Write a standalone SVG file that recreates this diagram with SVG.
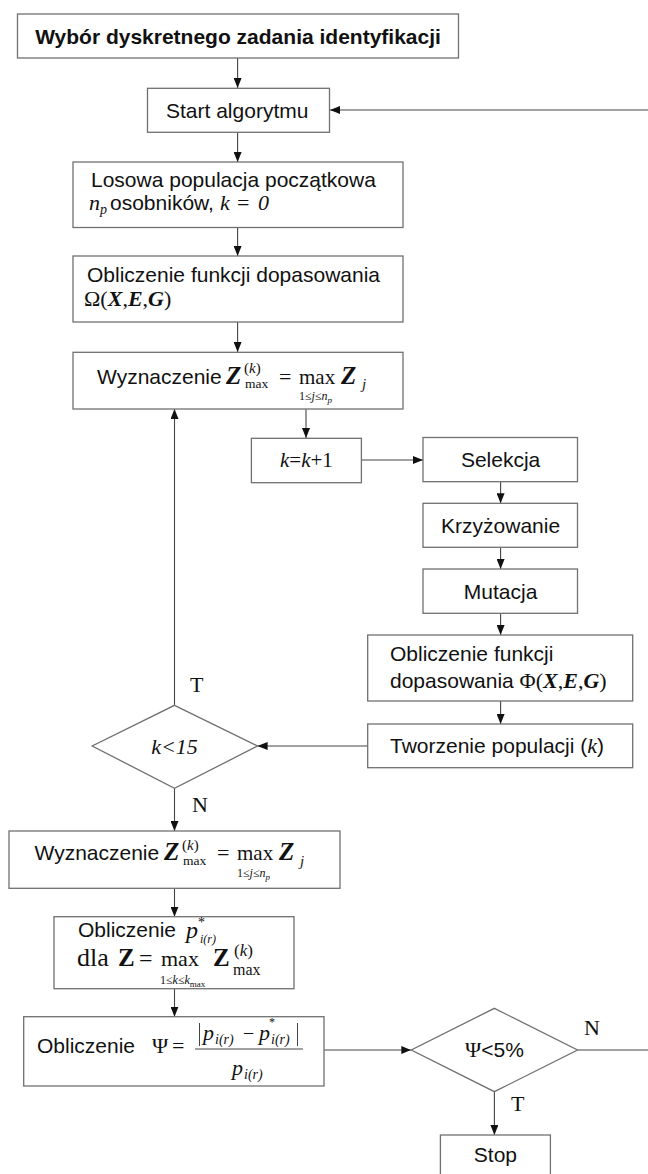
<svg xmlns="http://www.w3.org/2000/svg" width="648" height="1174" viewBox="0 0 648 1174">
<defs>
<marker id="ah" markerUnits="userSpaceOnUse" markerWidth="10" markerHeight="8" viewBox="0 0 10 8" refX="10" refY="4" orient="auto"><path d="M0,0 L10,4 L0,8 z" fill="#111"/></marker>
<style>
.box{fill:#fff;stroke:#707070;stroke-width:1.3}
.ln{fill:none;stroke:#444;stroke-width:1.1}
.s{font-family:"Liberation Sans",Arial,sans-serif;font-size:21px;fill:#111}
.m{font-family:"Liberation Serif","Times New Roman",serif;fill:#111}
.i{font-style:italic}
.bi{font-weight:bold;font-style:italic}
.b{font-weight:bold}
</style>
</defs>
<rect width="648" height="1174" fill="#fff"/>
<g id="connectors">
<line class="ln" x1="237.6" y1="58" x2="237.6" y2="88" marker-end="url(#ah)"/>
<line class="ln" x1="237.6" y1="132" x2="237.6" y2="162" marker-end="url(#ah)"/>
<line class="ln" x1="237.6" y1="227.5" x2="237.6" y2="256" marker-end="url(#ah)"/>
<line class="ln" x1="237.6" y1="322" x2="237.6" y2="352" marker-end="url(#ah)"/>
<line class="ln" x1="306" y1="409" x2="306" y2="438" marker-end="url(#ah)"/>
<line class="ln" x1="361.4" y1="460" x2="423" y2="460" marker-end="url(#ah)"/>
<line class="ln" x1="500.6" y1="481.7" x2="500.6" y2="503.3" marker-end="url(#ah)"/>
<line class="ln" x1="500.6" y1="547.3" x2="500.6" y2="569" marker-end="url(#ah)"/>
<line class="ln" x1="500.6" y1="613.3" x2="500.6" y2="635" marker-end="url(#ah)"/>
<line class="ln" x1="500.6" y1="701" x2="500.6" y2="724" marker-end="url(#ah)"/>
<line class="ln" x1="367.7" y1="746" x2="257.6" y2="746" marker-end="url(#ah)"/>
<line class="ln" x1="174.5" y1="705.3" x2="174.5" y2="409" marker-end="url(#ah)"/>
<line class="ln" x1="174.5" y1="788.3" x2="174.5" y2="831" marker-end="url(#ah)"/>
<line class="ln" x1="174.5" y1="888.3" x2="174.5" y2="916.7" marker-end="url(#ah)"/>
<line class="ln" x1="174.5" y1="988.7" x2="174.5" y2="1016.7" marker-end="url(#ah)"/>
<line class="ln" x1="324" y1="1050" x2="411.3" y2="1050" marker-end="url(#ah)"/>
<line class="ln" x1="494.4" y1="1091.7" x2="494.4" y2="1135" marker-end="url(#ah)"/>
<path class="ln" d="M577.5,1050 H652 V110 H330" marker-end="url(#ah)"/>
<text class="m" x="190" y="692" font-size="22">T</text>
<text class="m" x="192" y="812" font-size="22">N</text>
<text class="m" x="584" y="1035" font-size="22">N</text>
<text class="m" x="511" y="1111" font-size="22">T</text>
</g>
<g id="n1">
<rect class="box" x="17.5" y="14" width="441" height="44"/>
<text class="s b" x="238" y="43.5" text-anchor="middle" font-size="22" font-weight="bold">Wybór dyskretnego zadania identyfikacji</text>
</g>
<g id="n2">
<rect class="box" x="147.5" y="88.3" width="182" height="44"/>
<text class="s" x="166" y="117.5">Start algorytmu</text>
</g>
<g id="n3">
<rect class="box" x="73" y="162" width="330" height="65.5"/>
<text class="s" x="91" y="187">Losowa populacja początkowa</text>
<text class="m i" x="89" y="210" font-size="22">n</text>
<text class="m i" x="100" y="214" font-size="14">p</text>
<text class="s" x="110" y="210" font-size="19">osobników,</text>
<text class="m i" x="220" y="210" font-size="22">k</text>
<text class="m" x="237" y="210" font-size="22">=</text>
<text class="m i" x="258" y="210" font-size="22">0</text>
</g>
<g id="n4">
<rect class="box" x="73" y="256" width="330" height="66"/>
<text class="s" x="87" y="281.5">Obliczenie funkcji dopasowania</text>
<text class="m" x="84" y="306" font-size="22">Ω(<tspan class="bi">X</tspan>,<tspan class="bi">E</tspan>,<tspan class="bi">G</tspan>)</text>
</g>
<g id="n5">
<rect class="box" x="73" y="352.3" width="330" height="56.7"/>
<text class="s" x="97" y="383.5">Wyznaczenie</text>
<text class="m bi" x="226" y="383.5" font-size="25">Z</text>
<text class="m" x="244" y="373" font-size="15">(<tspan class="i">k</tspan>)</text>
<text class="m" x="245" y="388" font-size="13.5">max</text>
<text class="m" x="279" y="383.5" font-size="22">=</text>
<text class="m" x="299" y="383.5" font-size="21">max</text>
<text class="m" x="299" y="400" font-size="12">1≤<tspan class="i">j</tspan>≤<tspan class="i">n</tspan><tspan class="i" font-size="9" dy="3">p</tspan></text>
<text class="m bi" x="341" y="383.5" font-size="25">Z</text>
<text class="m i" x="362" y="389" font-size="15">j</text>
</g>
<g id="n6">
<rect class="box" x="251.4" y="438.3" width="110" height="44.4"/>
<text class="m" x="280" y="467" font-size="21"><tspan class="i">k</tspan>=<tspan class="i">k</tspan>+1</text>
</g>
<g id="n7">
<rect class="box" x="423" y="437.5" width="154.5" height="44.2"/>
<text class="s" x="500.6" y="467" text-anchor="middle">Selekcja</text>
</g>
<g id="n8">
<rect class="box" x="423" y="503.3" width="154.5" height="44"/>
<text class="s" x="500.6" y="533" text-anchor="middle">Krzyżowanie</text>
</g>
<g id="n9">
<rect class="box" x="423" y="569" width="154.5" height="44.3"/>
<text class="s" x="500.6" y="599" text-anchor="middle">Mutacja</text>
</g>
<g id="n10">
<rect class="box" x="367.7" y="635" width="265" height="66"/>
<text class="s" x="390" y="661">Obliczenie funkcji</text>
<text class="s" x="390" y="688">dopasowania <tspan class="m" font-size="22">Φ(<tspan class="bi">X</tspan>,<tspan class="bi">E</tspan>,<tspan class="bi">G</tspan>)</tspan></text>
</g>
<g id="n11">
<rect class="box" x="367.7" y="724" width="265" height="43.7"/>
<text class="s" x="390" y="753">Tworzenie populacji (<tspan class="m i" font-size="22">k</tspan>)</text>
</g>
<g id="n12">
<polygon class="box" points="174.5,705.3 257.6,746 174.5,788.3 92.2,746"/>
<text class="m i" x="174.5" y="754" font-size="22" text-anchor="middle">k&lt;15</text>
</g>
<g id="n13">
<rect class="box" x="9" y="831" width="331" height="57.3"/>
<text class="s" x="34.5" y="860">Wyznaczenie</text>
<text class="m bi" x="164" y="860" font-size="25">Z</text>
<text class="m" x="182" y="849.5" font-size="15">(<tspan class="i">k</tspan>)</text>
<text class="m" x="183" y="864.5" font-size="13.5">max</text>
<text class="m" x="217" y="860" font-size="22">=</text>
<text class="m" x="237" y="860" font-size="21">max</text>
<text class="m" x="237" y="876.5" font-size="12">1≤<tspan class="i">j</tspan>≤<tspan class="i">n</tspan><tspan class="i" font-size="9" dy="3">p</tspan></text>
<text class="m bi" x="279" y="860" font-size="25">Z</text>
<text class="m i" x="300" y="865.5" font-size="15">j</text>
</g>
<g id="n14">
<rect class="box" x="54" y="916.7" width="240" height="72"/>
<text class="s" x="78" y="937" font-size="19.5">Obliczenie</text>
<text class="m i" x="186" y="938" font-size="24">p</text>
<text class="m" x="198" y="927" font-size="14">*</text>
<text class="m i" x="200" y="943" font-size="12">i(r)</text>
<text class="m" x="77" y="966" font-size="26">dla</text>
<text class="m b" x="118" y="966" font-size="25">Z</text>
<text class="m" x="139" y="966" font-size="24">=</text>
<text class="m" x="161" y="966" font-size="22">max</text>
<text class="m" x="160" y="984" font-size="12">1≤<tspan class="i">k</tspan>≤<tspan class="i">k</tspan><tspan font-size="9" dy="3">max</tspan></text>
<text class="m b" x="213" y="966" font-size="25">Z</text>
<text class="m" x="234" y="956" font-size="17">(<tspan class="i">k</tspan>)</text>
<text class="m" x="233" y="975" font-size="16">max</text>
</g>
<g id="n15">
<rect class="box" x="23.7" y="1016.7" width="300.3" height="69.3"/>
<text class="s" x="37" y="1053">Obliczenie</text>
<text class="m" x="152" y="1053" font-size="22">Ψ</text>
<text class="m" x="172" y="1053" font-size="22">=</text>
<line x1="195" y1="1049" x2="303" y2="1049" stroke="#444" stroke-width="1"/>
<line x1="199.5" y1="1023" x2="199.5" y2="1046" stroke="#444" stroke-width="1"/>
<line x1="297.5" y1="1023" x2="297.5" y2="1046" stroke="#444" stroke-width="1"/>
<text class="m i" x="203" y="1040" font-size="22">p</text>
<text class="m i" x="215" y="1044" font-size="14">i(r)</text>
<text class="m" x="243" y="1040" font-size="20">−</text>
<text class="m i" x="259" y="1040" font-size="22">p</text>
<text class="m" x="269" y="1026" font-size="12">*</text>
<text class="m i" x="271" y="1044" font-size="14">i(r)</text>
<text class="m i" x="232" y="1075" font-size="22">p</text>
<text class="m i" x="244" y="1079" font-size="14">i(r)</text>
</g>
<g id="n16">
<polygon class="box" points="494.4,1008.3 577.5,1050 494.4,1091.7 411.3,1050"/>
<text x="494.4" y="1057" text-anchor="middle" class="s"><tspan class="m" font-size="22">Ψ</tspan>&lt;5%</text>
</g>
<g id="n17">
<rect class="box" x="440.4" y="1135" width="110" height="45"/>
<text class="s" x="495.4" y="1162" text-anchor="middle">Stop</text>
</g>
</svg>
